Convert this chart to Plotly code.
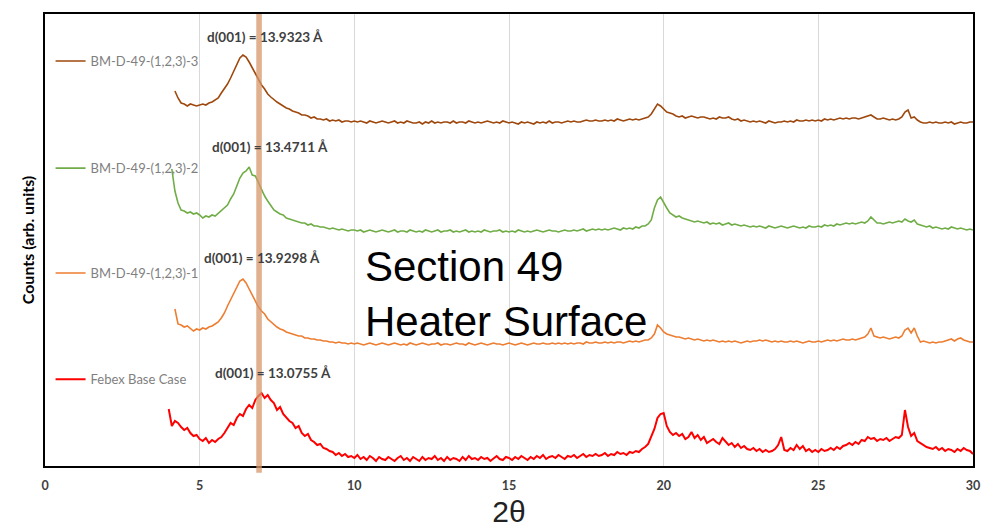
import numpy as np
import plotly.graph_objects as go

# XRD scans, Section 49 heater surface vs Febex base case
step = 0.1  # scan step in degrees 2-theta

names = ["Febex Base Case", "BM-D-49-(1,2,3)-1", "BM-D-49-(1,2,3)-2", "BM-D-49-(1,2,3)-3"]
colors = ["#FF0000", "#ED7D31", "#70AD47", "#9E480E"]
starts = [4.0, 4.2, 4.1, 4.2]
offsets = [0, 115, 225, 335]
d001 = ["13.0755", "13.9298", "13.4711", "13.9323"]
d001_pos = [(7.36, 93), (7.0, 208), (7.26, 319), (7.11, 429)]

febex = [
    57, 40, 45, 43, 39, 36, 38, 33, 30, 31,
    27, 25, 28, 23, 26, 24, 27, 29, 33, 38,
    43, 41, 48, 52, 50, 57, 61, 58, 66, 70,
    73, 68, 71, 66, 63, 56, 59, 52, 48, 45,
    43, 38, 40, 33, 30, 32, 26, 24, 21, 22,
    18, 17, 15, 14, 11, 13, 10, 12, 9, 10,
    8, 11, 7, 9, 6, 10, 8, 5, 9, 7,
    6, 9, 7, 5, 8, 10, 6, 8, 5, 9,
    7, 5, 9, 6, 8, 7, 10, 6, 8, 5,
    9, 6, 8, 7, 5, 9, 6, 10, 7, 8,
    6, 9, 7, 8, 5, 8, 10, 7, 6, 9,
    8, 6, 9, 7, 10, 8, 6, 9, 7, 10,
    8, 11, 7, 9, 10, 8, 11, 9, 7, 10,
    9, 11, 8, 10, 12, 9, 11, 10, 12, 10,
    11, 13, 10, 12, 11, 14, 12, 13, 11, 14,
    13, 15, 14, 17, 19, 22, 29, 37, 48, 52,
    53, 40, 34, 31, 33, 30, 32, 27, 29, 34,
    28, 31, 26, 29, 23, 25, 27, 24, 22, 28,
    24, 21, 23, 19, 22, 18, 20, 17, 16, 18,
    15, 17, 14, 16, 14, 15, 17, 21, 29, 16,
    15, 18, 16, 21, 17, 20, 15, 17, 14, 16,
    14, 17, 15, 16, 18, 16, 19, 17, 20, 21,
    23, 21, 24, 22, 26, 25, 29, 27, 28, 25,
    27, 26, 28, 25, 27, 29, 28, 31, 56, 39,
    30, 33, 25, 23, 21, 19, 18, 17, 19, 16,
    18, 15, 17, 16, 14, 17, 15, 18, 16, 15,
    12,
]

bm_1 = [
    42, 27, 26, 24, 25, 22, 20, 22,
    21, 23, 22, 24, 25, 27, 29, 33, 38, 45,
    51, 58, 64, 70, 72, 68, 62, 56, 50, 44,
    40, 37, 32, 29, 26, 24, 22, 21, 19, 18,
    17, 16, 15, 15, 13, 13, 12, 12, 11, 11,
    10, 10, 9, 9, 8, 9, 8, 8, 7, 8,
    7, 8, 7, 6, 7, 8, 7, 6, 7, 8,
    7, 6, 7, 8, 7, 6, 7, 6, 8, 7,
    6, 7, 8, 7, 6, 7, 7, 8, 6, 7,
    7, 6, 7, 8, 7, 7, 6, 8, 7, 6,
    7, 8, 7, 6, 7, 8, 7, 7, 6, 7,
    8, 7, 6, 7, 8, 7, 6, 7, 8, 7,
    7, 8, 7, 7, 8, 7, 8, 7, 8, 7,
    8, 7, 8, 8, 7, 9, 8, 8, 9, 8,
    8, 9, 8, 9, 8, 9, 9, 8, 9, 10,
    9, 10, 9, 10, 11, 11, 13, 17, 26, 23,
    19, 17, 16, 15, 14, 14, 13, 12, 13, 12,
    11, 12, 11, 10, 11, 10, 11, 10, 9, 10,
    9, 10, 9, 10, 9, 8, 9, 10, 9, 10,
    10, 11, 10, 11, 10, 9, 10, 9, 10, 9,
    9, 10, 9, 10, 9, 8, 9, 10, 9, 9,
    10, 9, 10, 11, 10, 11, 10, 11, 12, 11,
    11, 12, 11, 12, 13, 14, 17, 23, 15, 14,
    13, 14, 13, 12, 13, 14, 13, 15, 21, 23,
    18, 23, 15, 9, 10, 9, 8, 9, 8, 9,
    9, 10, 11, 12, 10, 12, 13, 11, 10, 9,
    9,
]

bm_2 = [
    72, 50, 38, 31, 30, 28, 29, 27, 28,
    26, 23, 25, 24, 26, 25, 28, 30, 33, 36,
    42, 47, 55, 63, 68, 70, 74, 66, 65, 58,
    51, 45, 40, 36, 31, 29, 27, 26, 23, 22,
    21, 20, 19, 18, 18, 16, 17, 15, 15, 14,
    14, 13, 12, 13, 12, 11, 12, 11, 10, 11,
    11, 10, 11, 9, 10, 11, 10, 9, 10, 11,
    10, 9, 10, 11, 9, 10, 10, 9, 11, 10,
    9, 10, 9, 11, 10, 9, 10, 11, 9, 10,
    10, 11, 9, 10, 9, 10, 11, 9, 10, 9,
    10, 9, 11, 10, 9, 10, 10, 11, 9, 10,
    9, 10, 9, 11, 10, 9, 10, 9, 10, 11,
    10, 9, 10, 11, 10, 10, 9, 10, 11, 10,
    10, 11, 10, 11, 12, 10, 11, 12, 11, 12,
    11, 12, 11, 12, 13, 12, 11, 13, 12, 13,
    12, 14, 13, 15, 15, 17, 21, 33, 41, 44,
    38, 33, 28, 26, 24, 25, 23, 22, 21, 20,
    19, 20, 19, 18, 19, 17, 18, 17, 18, 16,
    17, 18, 16, 17, 16, 15, 16, 15, 14, 15,
    14, 15, 14, 13, 15, 14, 13, 14, 15, 14,
    13, 14, 15, 14, 13, 14, 13, 15, 14, 14,
    15, 14, 16, 15, 16, 15, 17, 16, 17, 18,
    17, 18, 17, 18, 19, 18, 20, 24, 21, 18,
    18, 17, 18, 19, 18, 19, 20, 19, 22, 20,
    19, 21, 17, 16, 15, 14, 15, 13, 14, 13,
    12, 13, 12, 14, 13, 12, 13, 12, 11, 12,
    11,
]

bm_3 = [
    40, 33, 28, 27, 25, 27, 26, 25,
    26, 27, 26, 28, 29, 31, 33, 38, 42, 47,
    53, 60, 67, 73, 76, 74, 69, 63, 57, 51,
    46, 42, 37, 34, 31, 29, 27, 25, 23, 22,
    20, 19, 18, 16, 16, 15, 13, 14, 12, 12,
    11, 12, 10, 11, 10, 11, 9, 10, 10, 9,
    10, 9, 10, 9, 8, 10, 9, 8, 9, 10,
    9, 8, 9, 10, 8, 9, 8, 10, 9, 8,
    8, 9, 7, 9, 8, 10, 8, 9, 8, 9,
    9, 8, 10, 8, 9, 9, 8, 10, 9, 8,
    9, 8, 9, 10, 9, 8, 9, 8, 10, 9,
    8, 9, 8, 7, 9, 8, 9, 8, 7, 9,
    8, 9, 8, 10, 8, 9, 9, 8, 9, 10,
    9, 10, 9, 9, 10, 11, 10, 10, 11, 10,
    10, 11, 10, 11, 10, 12, 11, 10, 11, 12,
    11, 12, 11, 12, 13, 14, 17, 22, 27, 25,
    22, 19, 18, 17, 15, 14, 15, 13, 14, 15,
    14, 13, 14, 14, 13, 12, 13, 12, 14, 13,
    13, 14, 12, 11, 12, 10, 11, 10, 9, 10,
    9, 10, 9, 8, 10, 9, 8, 9, 9, 10,
    9, 10, 9, 11, 10, 10, 11, 10, 11, 10,
    11, 10, 12, 11, 12, 11, 12, 13, 12, 13,
    12, 13, 13, 12, 13, 14, 15, 16, 14, 12,
    12, 13, 12, 11, 12, 11, 12, 14, 19, 21,
    13, 14, 11, 9, 8, 8, 9, 8, 9, 8,
    8, 9, 8, 9, 7, 8, 9, 8, 8, 9,
    9,
]

series = [febex, bm_1, bm_2, bm_3]
legend_y = [0.192, 0.427, 0.659, 0.896]

fig = go.Figure()
for i, vals in enumerate(series):
    counts = np.array(vals, dtype=float)
    two_theta = starts[i] + step * np.arange(len(counts))  # measurement grid
    lg = "legend" if i == 0 else "legend%d" % (i + 1)
    fig.add_trace(go.Scatter(
        x=two_theta,
        y=counts + offsets[i],
        mode="lines",
        name=names[i],
        line=dict(color=colors[i], width=2 if i == 0 else 1.6),
        legend=lg,
    ))
    fig.add_annotation(
        x=d001_pos[i][0], y=d001_pos[i][1], xref="x", yref="y",
        text="<b>d(001) = %s Å</b>" % d001[i],
        showarrow=False,
        font=dict(family="Lato", size=13.5, color="#404040"),
    )

# marker band at the reference d(001) position
fig.add_shape(type="rect", xref="x", yref="paper", x0=6.83, x1=7.01, y0=-0.015, y1=1,
              fillcolor="rgba(214,150,105,0.75)", line_width=0, layer="above")

fig.add_annotation(
    x=10.28, y=172, xref="x", yref="y", xanchor="left", yanchor="middle", align="left",
    text="Section 49<br>Heater Surface", showarrow=False,
    font=dict(family="Liberation Sans", size=42, color="black"),
)

legend_style = dict(x=0.006, xanchor="left", yanchor="middle", bgcolor="rgba(0,0,0,0)",
                    font=dict(family="Lato", size=13, color="#7f7f7f"))

fig.update_layout(
    width=985, height=528,
    margin=dict(l=45, r=12, t=14, b=62),
    plot_bgcolor="white",
    paper_bgcolor="white",
    showlegend=True,
    legend=dict(y=legend_y[0], **legend_style),
    legend2=dict(y=legend_y[1], **legend_style),
    legend3=dict(y=legend_y[2], **legend_style),
    legend4=dict(y=legend_y[3], **legend_style),
    xaxis=dict(
        range=[0, 30], dtick=5, tick0=0, automargin=False,
        showgrid=True, gridcolor="#d9d9d9", gridwidth=1,
        zeroline=False, showline=True, linecolor="black", linewidth=2, mirror=True,
        ticks="", ticklabelstandoff=7,
        tickfont=dict(family="Lato", size=12.5, color="#404040", weight="bold"),
        title=dict(text="2θ", font=dict(family="Liberation Sans", size=30, color="#222222"), standoff=11),
    ),
    yaxis=dict(
        range=[0, 452], showticklabels=False, showgrid=False, zeroline=False, automargin=False,
        showline=True, linecolor="black", linewidth=2, mirror=True, ticks="",
        title=dict(text="<b>Counts (arb. units)</b>",
                   font=dict(family="Lato", size=16, color="black"), standoff=4),
    ),
)

# page body has a default 8px margin; drop it so the figure sits at the window corner
fig.write_html("out.html", config={"displayModeBar": False},
               post_script="document.body.style.margin='0';")
